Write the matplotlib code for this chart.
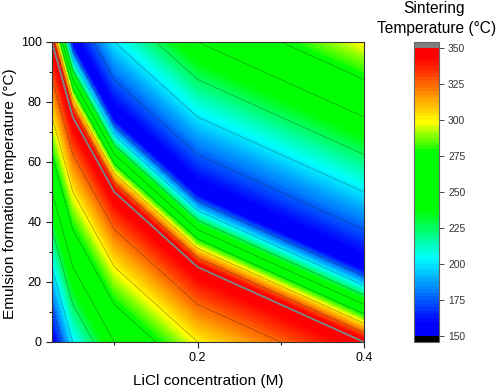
import numpy as np
import matplotlib
matplotlib.use('Agg')
import matplotlib.pyplot as plt
import matplotlib.tri as mtri
from matplotlib.colors import LinearSegmentedColormap

plt.rcParams['font.family'] = ['Liberation Sans', 'DejaVu Sans']

conc = [0.025, 0.05, 0.1, 0.2, 0.4]
emul_temp = [0, 25, 50, 75, 100]
# rows = emulsion temp, columns = LiCl concentration
sinter = [
    [150, 200, 250, 300, 350],
    [200, 250, 300, 350, 150],
    [250, 300, 350, 150, 200],
    [300, 350, 150, 200, 250],
    [350, 150, 200, 250, 300],
]
y_ticks = [0, 20, 40, 60, 80, 100]
y_minor = [10, 30, 50, 70, 90]
x_ticks = [0.2, 0.4]
x_minor = [0.1, 0.3]
cbar_ticks = [150, 175, 200, 225, 250, 275, 300, 325, 350]
color_stops = [(150, '#0000ff'), (159, '#0000ff'), (204, '#00ffff'), (238, '#00ff00'),
               (278, '#00ff00'), (299, '#ffff00'), (343, '#ff0000'), (350, '#ff0000')]

cmap = LinearSegmentedColormap.from_list(
    'sinter', [((v - 150) / 200, c) for v, c in color_stops], N=256)
cmap.set_under('black')
cmap.set_over('#808080')

X, Y = np.meshgrid(conc, emul_temp)
Z = np.array(sinter, dtype=float)
n = len(conc)
# split every cell along its anti-diagonal
triangles = []
for j in range(n - 1):
    for i in range(n - 1):
        a = j * n + i
        triangles.append([a, a + 1, a + n])
        triangles.append([a + 1, a + n + 1, a + n])
tri = mtri.Triangulation(X.ravel(), Y.ravel(), triangles)

fig = plt.figure(figsize=(4.98, 3.91), dpi=100)
W, H = 498, 391
ax = fig.add_axes([52 / W, 1 - 342 / H, 312 / W, 300 / H])

levels = np.arange(150, 350.1, 2.5)
cs = ax.tricontourf(tri, Z.ravel(), levels=levels, cmap=cmap, extend='both')
ax.tricontour(tri, Z.ravel(), levels=np.arange(175, 350, 25), colors='#202020',
              linewidths=0.6, alpha=0.35)
ax.tricontour(tri, Z.ravel(), levels=[349.9], colors='#808080', linewidths=1.0)

ax.set_xlim(0.025, 0.4)
ax.set_ylim(0, 100)
ax.set_xticks(x_ticks)
ax.set_xticklabels(['0.2', '0.4'])
ax.set_xticks(x_minor, minor=True)
ax.set_yticks(y_ticks)
ax.set_yticks(y_minor, minor=True)
ax.tick_params(which='major', length=4, width=0.8, labelsize=9, pad=3.5, color='#222222')
ax.tick_params(which='minor', length=2, width=0.8, color='#222222')
ax.set_xlabel('LiCl concentration (M)', fontsize=11.1)
ax.set_ylabel('Emulsion formation temperature (°C)', fontsize=11.1)
ax.xaxis.set_label_coords(0.5, -0.106)
ax.yaxis.set_label_coords(-0.113, 0.493)
for s in ax.spines.values():
    s.set_linewidth(0.8)
    s.set_color('#333333')

cax = fig.add_axes([414 / W, 1 - 342 / H, 25 / W, 300 / H])
cb = fig.colorbar(cs, cax=cax, ticks=cbar_ticks, extendrect=True, extendfrac=6 / 288, drawedges=False)
cb.minorticks_off()
cb.ax.tick_params(length=3.6, width=0.7, labelsize=7.4, pad=2.9, color='#444444', labelcolor='#333333')
cb.outline.set_edgecolor('#666666')
cb.outline.set_linewidth(0.8)

fig.text(434 / W, 1 - 9 / H, 'Sintering', ha='center', va='center', fontsize=11.2)
fig.text(436.5 / W, 1 - 28 / H, 'Temperature (°C)', ha='center', va='center', fontsize=11.2)

fig.savefig('out.png', dpi=100)
